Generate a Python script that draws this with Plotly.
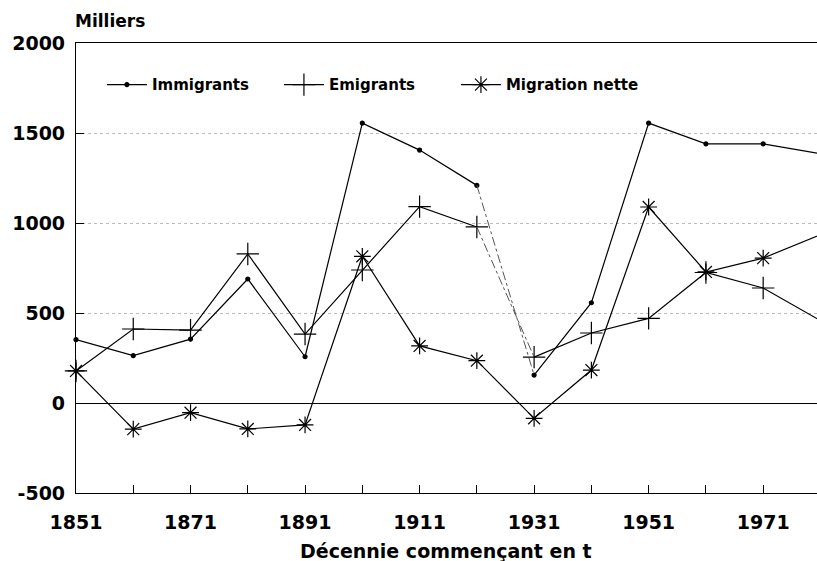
import plotly.graph_objects as go

years = [1851, 1861, 1871, 1881, 1891, 1901, 1911, 1921, 1931, 1941, 1951, 1961, 1971, 1981]
immigrants = [352, 263, 355, 689, 257, 1555, 1405, 1209, 155, 557, 1555, 1440, 1440, 1385]
emigrants = [178, 411, 405, 828, 383, 739, 1091, 978, 255, 389, 470, 725, 639, 458]
net = [178, -145, -54, -144, -122, 815, 317, 235, -85, 183, 1089, 728, 805, 935]

x_tickvals = list(range(1851, 1981, 10))
x_ticktext = ["1851", "", "1871", "", "1891", "", "1911", "", "1931", "", "1951", "", "1971"]
y_tickvals = [-500, 0, 500, 1000, 1500, 2000]
y_ticktext = ["-500", "0", "500", "1000", "1500", "2000"]

FONT = "DejaVu Sans"
gap = 7  # index of 1921; segment 1921->1931 drawn dashed for Immigrants/Emigrants

fig = go.Figure()

def add_series(name, vals, symbol, size, dashed_gap):
    if dashed_gap:
        xs = years[:gap + 1] + [None] + years[gap + 1:]
        ys = vals[:gap + 1] + [None] + vals[gap + 1:]
        fig.add_trace(go.Scatter(x=xs, y=ys, mode="lines+markers", name=name,
                                 line=dict(color="black", width=1.2),
                                 marker=dict(symbol=symbol, size=size, color="black",
                                             line=dict(color="black", width=1.2)),
                                 connectgaps=False, cliponaxis=False))
        fig.add_trace(go.Scatter(x=years[gap:gap + 2], y=vals[gap:gap + 2], mode="lines",
                                 showlegend=False,
                                 line=dict(color="#555", width=1, dash="dashdot")))
    else:
        fig.add_trace(go.Scatter(x=years, y=vals, mode="lines+markers", name=name,
                                 line=dict(color="black", width=1.2),
                                 marker=dict(symbol=symbol, size=size, color="black",
                                             line=dict(color="black", width=1.2)),
                                 cliponaxis=False))

add_series("Immigrants", immigrants, "circle", 4, True)
add_series("Emigrants", emigrants, "cross-thin", 16, True)
add_series("Migration nette", net, "asterisk-open", 14, False)
# invisible spacer entry so the last legend label is not clipped
fig.add_trace(go.Scatter(x=[None], y=[None], mode="lines", name=" ",
                         line=dict(color="rgba(0,0,0,0)", width=0), hoverinfo="skip"))

fig.update_layout(
    width=817, height=561,
    margin=dict(l=76, r=0, t=43, b=68),
    paper_bgcolor="white", plot_bgcolor="white",
    font=dict(family=FONT, size=16, color="black"),
    showlegend=True,
    legend=dict(orientation="h", x=0.035, y=0.907, xanchor="left", yanchor="middle",
                font=dict(family=FONT, size=15, color="black", weight="bold"),
                bgcolor="rgba(0,0,0,0)", entrywidth=122, itemwidth=40),
    annotations=[
        dict(text="Milliers", x=0, xref="paper", y=1, yref="paper",
             xanchor="left", yanchor="middle", yshift=22, xshift=-3,
             showarrow=False,
             font=dict(family=FONT, size=17, color="black", weight="bold")),
        dict(text="Décennie commençant en t", x=0.5, xref="paper", y=0, yref="paper",
             xanchor="center", yanchor="middle", yshift=-58, xshift=-1, showarrow=False,
             font=dict(family=FONT, size=19, color="black", weight="bold")),
    ],
)

fig.update_xaxes(range=[1851, 1980.4], tickvals=x_tickvals, ticktext=x_ticktext,
                 ticks="inside", ticklen=8, tickcolor="black", tickwidth=1,
                 showline=True, linecolor="black", linewidth=1.2, mirror=True,
                 showgrid=False, zeroline=False, ticklabelstandoff=12,
                 tickfont=dict(family=FONT, size=19, weight="bold"))

fig.update_yaxes(range=[-500, 2000], tickvals=y_tickvals, ticktext=y_ticktext,
                 ticks="inside", ticklen=8, tickcolor="black",
                 showline=True, linecolor="black", linewidth=1.2,
                 showgrid=True, gridcolor="#bbb", griddash="dot", gridwidth=1,
                 zeroline=True, zerolinecolor="black", zerolinewidth=1.2,
                 ticklabelstandoff=6,
                 tickfont=dict(family=FONT, size=19, weight="bold"))

fig.write_html("out.html", config={"displayModeBar": False},
               post_script="document.body.style.margin='0';")
